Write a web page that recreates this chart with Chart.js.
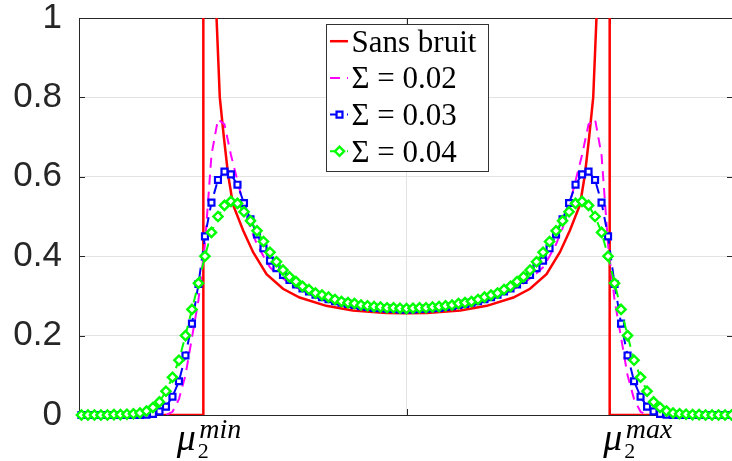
<!DOCTYPE html>
<html>
<head>
<meta charset="utf-8">
<script src="https://cdn.jsdelivr.net/npm/chart.js@4.4.0/dist/chart.umd.min.js"></script>
<style>
  html, body { margin: 0; padding: 0; background: #fff; overflow: hidden; }
  #wrap { position: absolute; left: 0; top: 0; width: 740px; height: 461px; }
</style>
</head>
<body>
<div id="wrap"><canvas id="densityChart"></canvas></div>
<script>
// grid of the noisy curves (mu2 normalised: -1 = min, 1 = max)
const xs = [
  -1.6, -1.568, -1.536, -1.504, -1.472, -1.44, -1.408, -1.376, -1.344, -1.312,
  -1.28, -1.248, -1.216, -1.184, -1.152, -1.12, -1.088, -1.056, -1.024, -0.992,
  -0.96, -0.928, -0.896, -0.864, -0.832, -0.8, -0.768, -0.736, -0.704, -0.672,
  -0.64, -0.608, -0.576, -0.544, -0.512, -0.48, -0.448, -0.416, -0.384, -0.352,
  -0.32, -0.288, -0.256, -0.224, -0.192, -0.16, -0.128, -0.096, -0.064, -0.032,
  0,
  0.032, 0.064, 0.096, 0.128, 0.16, 0.192, 0.224, 0.256, 0.288, 0.32,
  0.352, 0.384, 0.416, 0.448, 0.48, 0.512, 0.544, 0.576, 0.608, 0.64,
  0.672, 0.704, 0.736, 0.768, 0.8, 0.832, 0.864, 0.896, 0.928, 0.96,
  0.992, 1.024, 1.056, 1.088, 1.12, 1.152, 1.184, 1.216, 1.248, 1.28,
  1.312, 1.344, 1.376, 1.408, 1.44, 1.472, 1.504, 1.536, 1.568, 1.6
];

// Sans bruit (exact density)
const sansBruitX = [-1.612, -1, -1, -0.985, -0.96, -0.935, -0.919, -0.899, -0.878, -0.854,
  -0.804, -0.755, -0.689, -0.608, -0.526, -0.395, -0.264, -0.1, 0,
  0.1, 0.264, 0.395, 0.526, 0.608, 0.689, 0.755, 0.804, 0.854, 0.878,
  0.899, 0.919, 0.935, 0.96, 0.985, 1, 1, 1.607];
const sansBruitY = [0, 0, 3, 2.2, 1.4, 1, 0.8, 0.7, 0.605, 0.53,
  0.465, 0.41, 0.355, 0.318, 0.296, 0.275, 0.263, 0.257, 0.256,
  0.257, 0.263, 0.275, 0.296, 0.318, 0.355, 0.41, 0.465, 0.53, 0.605,
  0.7, 0.8, 1, 1.4, 2.2, 3, 0, 0];

const sigma002 = [
  0, 0, 0, 0, 0, 0, 0, 0, 0, 0, 0, 0, 0, 0,
  0.008, 0.04, 0.1, 0.195, 0.29, 0.43, 0.655, 0.745, 0.732, 0.655,
  0.59, 0.525, 0.47, 0.43, 0.4, 0.372, 0.357, 0.344, 0.332, 0.322,
  0.313, 0.305, 0.298, 0.292, 0.287, 0.283, 0.279, 0.276, 0.273, 0.271,
  0.269, 0.267, 0.266, 0.265, 0.264, 0.263, 0.263,
  0.263, 0.264, 0.265, 0.266, 0.267, 0.269, 0.271, 0.273, 0.276, 0.279,
  0.283, 0.287, 0.292, 0.298, 0.305, 0.313, 0.322, 0.332, 0.344, 0.357,
  0.372, 0.4, 0.43, 0.47, 0.525, 0.59, 0.655, 0.732, 0.745, 0.655,
  0.43, 0.29, 0.195, 0.1, 0.04, 0.008,
  0, 0, 0, 0, 0, 0, 0, 0, 0, 0, 0, 0, 0, 0
];

const sigma003 = [
  0, 0, 0, 0, 0, 0, 0, 0, 0, 0,
  0.001, 0.003, 0.009, 0.021, 0.046, 0.085, 0.15, 0.23, 0.33, 0.45,
  0.535, 0.592, 0.613, 0.606, 0.58, 0.534, 0.493, 0.455, 0.42, 0.389,
  0.37, 0.353, 0.34, 0.329, 0.319, 0.311, 0.303, 0.297, 0.292, 0.287,
  0.283, 0.28, 0.277, 0.274, 0.272, 0.27, 0.269, 0.268, 0.267, 0.266,
  0.266,
  0.266, 0.267, 0.268, 0.269, 0.27, 0.272, 0.274, 0.277, 0.28, 0.283,
  0.287, 0.292, 0.297, 0.303, 0.311, 0.319, 0.329, 0.34, 0.353, 0.37,
  0.389, 0.42, 0.455, 0.493, 0.534, 0.58, 0.606, 0.613, 0.592, 0.535,
  0.45, 0.33, 0.23, 0.15, 0.085, 0.046, 0.021, 0.009, 0.003, 0.001,
  0, 0, 0, 0, 0, 0, 0, 0, 0, 0
];

const sigma004 = [
  0, 0, 0, 0, 0, 0.001, 0.001, 0.002, 0.003, 0.005,
  0.01, 0.019, 0.033, 0.06, 0.095, 0.138, 0.2, 0.266, 0.332, 0.4,
  0.46, 0.5, 0.528, 0.538, 0.533, 0.512, 0.489, 0.464, 0.437, 0.41,
  0.386, 0.365, 0.348, 0.336, 0.324, 0.316, 0.307, 0.302, 0.297, 0.291,
  0.286, 0.283, 0.281, 0.277, 0.275, 0.273, 0.272, 0.27, 0.27, 0.269,
  0.268,
  0.269, 0.27, 0.27, 0.272, 0.273, 0.275, 0.277, 0.281, 0.283, 0.286,
  0.291, 0.297, 0.302, 0.307, 0.316, 0.324, 0.336, 0.348, 0.365, 0.386,
  0.41, 0.437, 0.464, 0.489, 0.512, 0.533, 0.538, 0.528, 0.5, 0.46,
  0.4, 0.332, 0.266, 0.2, 0.138, 0.095, 0.06, 0.033, 0.019, 0.01,
  0.005, 0.003, 0.002, 0.001, 0.001, 0, 0, 0, 0, 0
];

const seriesLabels = ['Sans bruit', 'Σ = 0.02', 'Σ = 0.03', 'Σ = 0.04'];
const yTicks = [0, 0.2, 0.4, 0.6, 0.8, 1];
const xTicks = [-1, 0, 1];
const xTickSup = ['min', '', 'max']; // shown as mu_2^{...}

const AXIS = '#262626';

function pts(xv, yv) {
  return xv.map((x, i) => ({ x: x, y: yv[i] }));
}

// box + inward ticks, matlab style
const framePlugin = {
  id: 'frame',
  beforeDatasetsDraw(chart) {
    const { ctx, chartArea: a, scales } = chart;
    ctx.save();
    ctx.strokeStyle = AXIS;
    ctx.lineWidth = 1;
    ctx.strokeRect(a.left + 0.5, a.top + 0.5, a.right - a.left, a.bottom - a.top);
    ctx.beginPath();
    yTicks.forEach(v => {
      const y = Math.round(scales.y.getPixelForValue(v)) + 0.5;
      ctx.moveTo(a.left, y); ctx.lineTo(a.left + 6, y);
      ctx.moveTo(a.right, y); ctx.lineTo(a.right - 6, y);
    });
    xTicks.forEach(v => {
      const x = Math.round(scales.x.getPixelForValue(v)) + 0.5;
      ctx.moveTo(x, a.bottom); ctx.lineTo(x, a.bottom - 6);
      ctx.moveTo(x, a.top); ctx.lineTo(x, a.top + 6);
    });
    ctx.stroke();
    ctx.restore();
  },
  afterDraw(chart) {
    const { ctx, scales } = chart;
    ctx.save();
    ctx.fillStyle = '#000';
    ctx.textBaseline = 'alphabetic';
    xTicks.forEach((v, i) => {
      const sup = xTickSup[i];
      if (!sup) return;
      const px = scales.x.getPixelForValue(v);
      const left = px + (sup === 'min' ? -26.5 : -6.5);
      ctx.font = 'italic 38px "Liberation Serif"';
      ctx.fillText('μ', left, 450);
      ctx.font = '22px "Liberation Serif"';
      ctx.fillText('2', left + 21, 458);
      ctx.font = 'italic 28px "Liberation Serif"';
      ctx.fillText(sup, left + 22.5, 438);
    });
    ctx.restore();
  }
};

// legend box inside the axes
const legendPlugin = {
  id: 'boxLegend',
  afterDatasetsDraw(chart) {
    const ctx = chart.ctx;
    const bx = 326.5, by = 24.5, bw = 162, bh = 147;
    ctx.save();
    ctx.fillStyle = '#fff';
    ctx.fillRect(bx, by, bw, bh);
    ctx.strokeStyle = '#333';
    ctx.lineWidth = 1;
    ctx.strokeRect(bx, by, bw, bh);
    chart.data.datasets.forEach((ds, i) => {
      const base = 51.7 + i * 36.7;
      const cy = base - 10.5;
      ctx.strokeStyle = ds.borderColor;
      ctx.lineWidth = ds.borderWidth;
      ctx.setLineDash(ds.borderDash || []);
      ctx.beginPath();
      ctx.moveTo(330, cy);
      ctx.lineTo(348, cy);
      ctx.stroke();
      ctx.setLineDash([]);
      if (ds.pointRadius > 0) {
        ctx.fillStyle = ds.pointBackgroundColor;
        ctx.lineWidth = ds.pointBorderWidth;
        Chart.helpers.drawPoint(ctx, { pointStyle: ds.pointStyle, radius: ds.pointRadius, borderWidth: ds.pointBorderWidth, rotation: 0 }, 339.5, cy);
      }
      ctx.fillStyle = '#000';
      ctx.font = '31px "Liberation Serif"';
      ctx.textBaseline = 'alphabetic';
      ctx.fillText(seriesLabels[i], 351.5, base);
    });
    ctx.restore();
  }
};

new Chart(document.getElementById('densityChart'), {
  type: 'line',
  data: {
    datasets: [{
      label: seriesLabels[0],
      data: pts(sansBruitX, sansBruitY),
      borderColor: '#ff0000',
      borderWidth: 2.5,
      pointRadius: 0,
      tension: 0,
      order: 3
    }, {
      label: seriesLabels[1],
      data: pts(xs, sigma002),
      borderColor: '#ff00ff',
      borderWidth: 2,
      borderDash: [10, 7],
      pointRadius: 0,
      tension: 0,
      order: 2
    }, {
      label: seriesLabels[2],
      data: pts(xs, sigma003),
      borderColor: '#0000ff',
      borderWidth: 2,
      borderDash: [10, 7],
      pointStyle: 'rect',
      pointRadius: 4.2,
      pointBorderWidth: 2.2,
      pointBorderColor: '#0000ff',
      pointBackgroundColor: '#ffffff',
      tension: 0,
      clip: false,
      order: 1
    }, {
      label: seriesLabels[3],
      data: pts(xs, sigma004),
      borderColor: '#00ff00',
      borderWidth: 2,
      borderDash: [10, 7],
      pointStyle: 'rectRot',
      pointRadius: 4.6,
      pointBorderWidth: 2.4,
      pointBorderColor: '#00ff00',
      pointBackgroundColor: '#ffffff',
      tension: 0,
      clip: false,
      order: 0
    }]
  },
  options: {
    responsive: true,
    maintainAspectRatio: false,
    devicePixelRatio: 1,
    animation: false,
    layout: { padding: { top: 18, right: 6, bottom: 46, left: 0 } },
    plugins: { legend: { display: false }, tooltip: { enabled: false } },
    scales: {
      x: {
        type: 'linear',
        min: -1.612,
        max: 1.607,
        afterBuildTicks: s => { s.ticks = xTicks.map(v => ({ value: v })); },
        afterFit: s => { s.height = 0; s.paddingLeft = 0; s.paddingRight = 0; },
        ticks: { display: false },
        grid: { color: '#e3e3e3', drawTicks: false },
        border: { display: false }
      },
      y: {
        min: 0,
        max: 1,
        afterBuildTicks: s => { s.ticks = yTicks.map(v => ({ value: v })); },
        afterFit: s => { s.width = 79; s.paddingTop = 0; s.paddingBottom = 0; },
        ticks: {
          padding: 17,
          color: AXIS,
          font: { family: '"Liberation Sans", Arial, sans-serif', size: 35 },
          callback: v => String(Math.round(v * 10) / 10)
        },
        grid: { color: '#e3e3e3', drawTicks: false },
        border: { display: false }
      }
    }
  },
  plugins: [framePlugin, legendPlugin]
});
</script>
</body>
</html>
